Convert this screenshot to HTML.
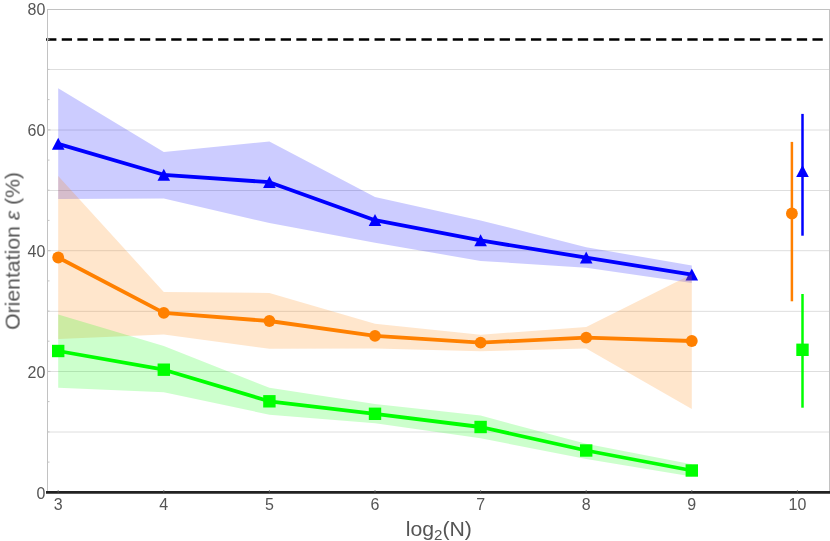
<!DOCTYPE html>
<html><head><meta charset="utf-8"><title>chart</title>
<style>
html,body{margin:0;padding:0;background:#fff;}
body{width:830px;height:541px;overflow:hidden;}
svg{display:block;}
text{font-family:"Liberation Sans",sans-serif;fill:#555;}
</style></head><body>
<svg width="830" height="541" viewBox="0 0 830 541">
<rect width="830" height="541" fill="#fff"/>

<g stroke="#dedede" stroke-width="1" fill="none">
<line x1="48" x2="829" y1="69.5" y2="69.5"/>
<line x1="48" x2="829" y1="130.0" y2="130.0"/>
<line x1="48" x2="829" y1="190.5" y2="190.5"/>
<line x1="48" x2="829" y1="250.7" y2="250.7"/>
<line x1="48" x2="829" y1="311.35" y2="311.35"/>
<line x1="48" x2="829" y1="371.5" y2="371.5"/>
<line x1="48" x2="829" y1="432.0" y2="432.0"/>
</g>
<line x1="46.1" x2="823" y1="39.5" y2="39.5" stroke="#000" stroke-width="2.6" stroke-dasharray="10.3 5.34"/>
<polygon points="58.2,88.3 163.8,152.1 269.4,141.5 375.0,197.0 480.6,220.4 586.2,247.2 691.8,265.6 691.8,282.9 586.2,267.8 480.6,260.9 375.0,242.8 269.4,223.0 163.8,198.5 58.2,198.9" fill="#0000ff" fill-opacity="0.2"/>
<polyline points="58.2,143.9 163.8,174.8 269.4,182.2 375.0,220.2 480.6,240.4 586.2,257.7 691.8,274.6" fill="none" stroke="#0000ff" stroke-width="3.8" stroke-linejoin="round"/>
<g fill="#0000ff"><polygon points="58.2,137.8 51.9,149.8 64.5,149.8"/><polygon points="163.8,168.7 157.5,180.7 170.1,180.7"/><polygon points="269.4,176.1 263.1,188.1 275.7,188.1"/><polygon points="375.0,214.1 368.7,226.1 381.3,226.1"/><polygon points="480.6,234.3 474.3,246.3 486.9,246.3"/><polygon points="586.2,251.6 579.9,263.6 592.5,263.6"/><polygon points="691.8,268.5 685.5,280.5 698.1,280.5"/></g>
<line x1="802.5" x2="802.5" y1="113.9" y2="235.7" stroke="#0000ff" stroke-width="2.5"/>
<g fill="#0000ff"><polygon points="802.5,164.9 796.2,176.9 808.8,176.9"/></g>
<polygon points="58.2,176.0 163.8,291.9 269.4,293.0 375.0,323.8 480.6,334.7 586.2,327.0 691.8,274.2 691.8,408.9 586.2,348.5 480.6,351.3 375.0,348.4 269.4,348.7 163.8,334.6 58.2,339.0" fill="#ff8000" fill-opacity="0.2"/>
<polyline points="58.2,257.5 163.8,312.9 269.4,321.0 375.0,335.9 480.6,342.6 586.2,337.6 691.8,341.0" fill="none" stroke="#ff8000" stroke-width="3.8" stroke-linejoin="round"/>
<g fill="#ff8000"><circle cx="58.2" cy="257.5" r="5.9"/><circle cx="163.8" cy="312.9" r="5.9"/><circle cx="269.4" cy="321.0" r="5.9"/><circle cx="375.0" cy="335.9" r="5.9"/><circle cx="480.6" cy="342.6" r="5.9"/><circle cx="586.2" cy="337.6" r="5.9"/><circle cx="691.8" cy="341.0" r="5.9"/></g>
<line x1="791.9" x2="791.9" y1="141.9" y2="301.3" stroke="#ff8000" stroke-width="2.5"/>
<g fill="#ff8000"><circle cx="791.9" cy="213.5" r="5.9"/></g>
<polygon points="58.2,314.5 163.8,346.0 269.4,387.8 375.0,404.0 480.6,415.6 586.2,443.7 691.8,464.2 691.8,476.4 586.2,459.0 480.6,438.3 375.0,423.3 269.4,414.7 163.8,392.3 58.2,387.8" fill="#00ff00" fill-opacity="0.2"/>
<polyline points="58.2,351.0 163.8,369.7 269.4,401.3 375.0,413.8 480.6,427.0 586.2,450.5 691.8,470.5" fill="none" stroke="#00ff00" stroke-width="3.8" stroke-linejoin="round"/>
<g fill="#00ff00"><rect x="52.0" y="344.8" width="12.4" height="12.4"/><rect x="157.6" y="363.5" width="12.4" height="12.4"/><rect x="263.2" y="395.1" width="12.4" height="12.4"/><rect x="368.8" y="407.6" width="12.4" height="12.4"/><rect x="474.4" y="420.8" width="12.4" height="12.4"/><rect x="580.0" y="444.3" width="12.4" height="12.4"/><rect x="685.6" y="464.3" width="12.4" height="12.4"/></g>
<line x1="802.5" x2="802.5" y1="294.0" y2="407.7" stroke="#00ff00" stroke-width="2.5"/>
<g fill="#00ff00"><rect x="796.3" y="343.6" width="12.4" height="12.4"/></g>
<g stroke="#c2c2c2" stroke-width="1" fill="none">
<line x1="47.5" y1="9" x2="47.5" y2="492"/>
<line x1="47" y1="9.5" x2="830" y2="9.5"/>
<line x1="829.5" y1="9" x2="829.5" y2="492"/>
<line x1="48" x2="49.5" y1="462.1" y2="462.1"/>
<line x1="48" x2="49.5" y1="431.9" y2="431.9"/>
<line x1="48" x2="49.5" y1="401.6" y2="401.6"/>
<line x1="48" x2="50.5" y1="371.4" y2="371.4"/>
<line x1="48" x2="49.5" y1="341.2" y2="341.2"/>
<line x1="48" x2="49.5" y1="311.1" y2="311.1"/>
<line x1="48" x2="49.5" y1="280.9" y2="280.9"/>
<line x1="48" x2="50.5" y1="250.7" y2="250.7"/>
<line x1="48" x2="49.5" y1="220.4" y2="220.4"/>
<line x1="48" x2="49.5" y1="190.2" y2="190.2"/>
<line x1="48" x2="49.5" y1="160.1" y2="160.1"/>
<line x1="48" x2="50.5" y1="129.9" y2="129.9"/>
<line x1="48" x2="49.5" y1="99.6" y2="99.6"/>
<line x1="48" x2="49.5" y1="69.4" y2="69.4"/>
<line x1="48" x2="49.5" y1="39.2" y2="39.2"/>
</g>
<line x1="46" x2="830" y1="492.3" y2="492.3" stroke="#222" stroke-width="2.7"/>
<g stroke="#555" stroke-width="1">
<line x1="58.2" x2="58.2" y1="490.3" y2="492.5"/>
<line x1="163.8" x2="163.8" y1="490.3" y2="492.5"/>
<line x1="269.4" x2="269.4" y1="490.3" y2="492.5"/>
<line x1="375.0" x2="375.0" y1="490.3" y2="492.5"/>
<line x1="480.6" x2="480.6" y1="490.3" y2="492.5"/>
<line x1="586.2" x2="586.2" y1="490.3" y2="492.5"/>
<line x1="691.8" x2="691.8" y1="490.3" y2="492.5"/>
<line x1="797.4" x2="797.4" y1="490.3" y2="492.5"/>
</g>
<g opacity="0.999">
<text transform="translate(45.3,15.05) scale(1,1.07)" font-size="16" text-anchor="end">80</text>
<text transform="translate(45.3,135.97) scale(1,1.07)" font-size="16" text-anchor="end">60</text>
<text transform="translate(45.3,256.89) scale(1,1.07)" font-size="16" text-anchor="end">40</text>
<text transform="translate(45.3,377.81) scale(1,1.07)" font-size="16" text-anchor="end">20</text>
<text transform="translate(45.3,498.73) scale(1,1.07)" font-size="16" text-anchor="end">0</text>
<text transform="translate(58.2,509.5) scale(1,1.07)" font-size="16" text-anchor="middle">3</text>
<text transform="translate(163.8,509.5) scale(1,1.07)" font-size="16" text-anchor="middle">4</text>
<text transform="translate(269.4,509.5) scale(1,1.07)" font-size="16" text-anchor="middle">5</text>
<text transform="translate(375.0,509.5) scale(1,1.07)" font-size="16" text-anchor="middle">6</text>
<text transform="translate(480.6,509.5) scale(1,1.07)" font-size="16" text-anchor="middle">7</text>
<text transform="translate(586.2,509.5) scale(1,1.07)" font-size="16" text-anchor="middle">8</text>
<text transform="translate(691.8,509.5) scale(1,1.07)" font-size="16" text-anchor="middle">9</text>
<text transform="translate(797.4,509.5) scale(1,1.07)" font-size="16" text-anchor="middle">10</text>
<text transform="translate(438.8,535.7) scale(1.037,1)" font-size="20.5" text-anchor="middle">log<tspan font-size="14.6" dy="4.1">2</tspan><tspan dy="-4.1">(N)</tspan></text>
<text transform="translate(19.6,250.9) rotate(-90) scale(1.035,1)" font-size="20.5" text-anchor="middle">Orientation <tspan font-style="italic">ε</tspan> (%)</text>
</g>
</svg>
</body></html>
